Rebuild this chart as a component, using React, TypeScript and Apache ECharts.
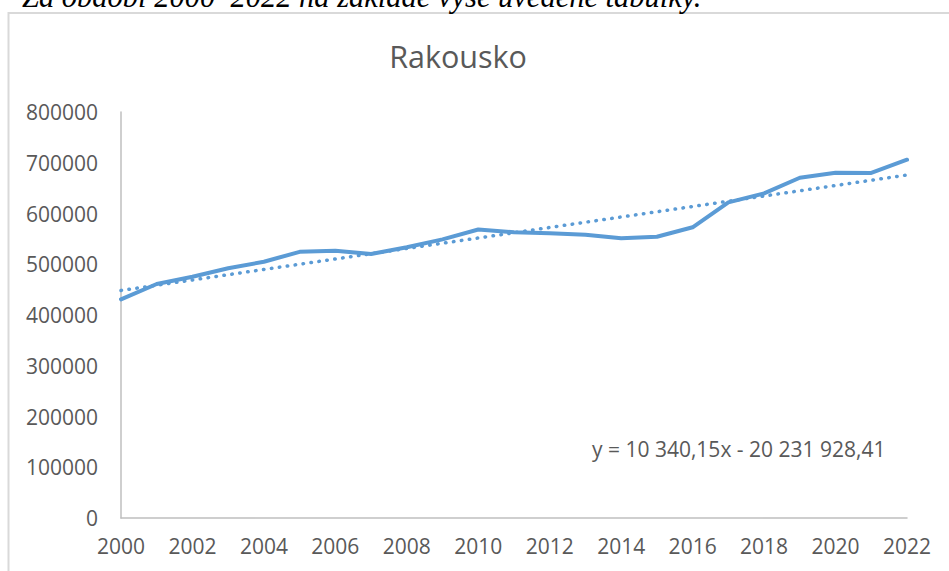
import React, { useEffect, useRef } from "react";
import * as echarts from "echarts";

const years = [2000, 2001, 2002, 2003, 2004, 2005, 2006, 2007, 2008, 2009, 2010, 2011, 2012, 2013, 2014, 2015, 2016, 2017, 2018, 2019, 2020, 2021, 2022];
const values = [430900, 461100, 475500, 492000, 505000, 524500, 526500, 520200, 533500, 549000, 568500, 563000, 561000, 558200, 551100, 554300, 572800, 622000, 639500, 670500, 680400, 680000, 706000];
const trendYears = [2000, 2022];
const trendValues = [448372, 675855];
const titleText = "Rakousko";
const equationText = "y = 10 340,15x - 20 231 928,41";
const captionText = "Za období 2000–2022 na základě výše uvedené tabulky.";

export default function App() {
  const ref = useRef<HTMLDivElement>(null);
  useEffect(() => {
    if (!ref.current) return;
    const chart = echarts.init(ref.current, undefined, { renderer: "svg" });
    const font = "'Open Sans', 'Noto Sans', sans-serif";
    chart.setOption({
      animation: false,
      backgroundColor: "#ffffff",
      title: {
        text: titleText,
        left: 453,
        textAlign: "center",
        top: 35,
        textStyle: { fontFamily: font, fontSize: 30.5, fontWeight: "normal", color: "#595959" },
      },
      grid: { left: 121, right: 42, top: 112, bottom: 53 },
      xAxis: {
        type: "value",
        min: 2000,
        max: 2022,
        interval: 2,
        axisLine: { show: true, lineStyle: { color: "#BFBFBF", width: 1.5 } },
        axisTick: { show: false },
        splitLine: { show: false },
        axisLabel: { fontFamily: font, fontSize: 21, color: "#595959", margin: 17, formatter: (v: number) => String(v) },
      },
      yAxis: {
        type: "value",
        min: 0,
        max: 800000,
        interval: 100000,
        axisLine: { show: true, lineStyle: { color: "#BFBFBF", width: 1.5 } },
        axisTick: { show: false },
        splitLine: { show: false },
        axisLabel: { fontFamily: font, fontSize: 21, color: "#595959", margin: 23, formatter: (v: number) => String(v) },
      },
      graphic: [
        {
          type: "rect",
          shape: { x: 8.5, y: 13, width: 1000, height: 700 },
          style: { fill: "none", stroke: "#D9D9D9", lineWidth: 2 },
          z: -1,
        },
        {
          type: "text",
          x: 22,
          y: 12,
          style: {
            text: captionText,
            fontFamily: "'Liberation Serif', 'DejaVu Serif', serif",
            fontStyle: "italic",
            fontSize: 30.5,
            fill: "#000000",
            textVerticalAlign: "bottom",
          },
        },
        {
          type: "text",
          x: 592,
          y: 449,
          style: {
            text: equationText,
            fontFamily: font,
            fontSize: 21,
            fill: "#595959",
            textVerticalAlign: "middle",
          },
        },
      ],
      series: [
        {
          type: "line",
          data: years.map((y, i) => [y, values[i]]),
          showSymbol: false,
          lineStyle: { color: "#5B9BD5", width: 4, cap: "round", join: "round" },
          z: 3,
        },
        {
          type: "line",
          data: trendYears.map((y, i) => [y, trendValues[i]]),
          showSymbol: false,
          lineStyle: { color: "#5B9BD5", width: 3.5, type: [0.5, 7.5], cap: "round" },
          z: 2,
        },
      ],
    });
    return () => chart.dispose();
  }, []);
  return <div ref={ref} style={{ position: "fixed", left: 0, top: 0, width: 949, height: 571 }} />;
}
